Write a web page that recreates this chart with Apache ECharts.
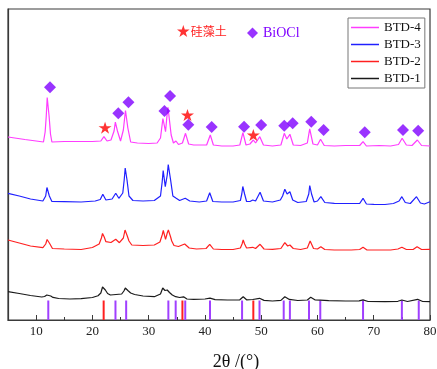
<!DOCTYPE html>
<html>
<head>
<meta charset="utf-8">
<script src="https://cdn.jsdelivr.net/npm/echarts@6/dist/echarts.min.js"></script>
<style>
  html, body { margin: 0; padding: 0; background: #fff; }
  #chart { width: 437px; height: 369px; }
</style>
</head>
<body>
<div id="chart"></div>
<script>
// XRD patterns, [2θ (°), intensity (a.u., stacked offsets)]
const btd1 = [[5,28.3],[7,26.5],[9,24.5],[11,23],[11.5,23.5],[11.9,25],[12.2,25],[12.6,24],[13,22.6],[14,21.5],[16,21],[18,21.3],[20,22.5],[21,24.3],[21.5,27],[21.8,33],[22,33.5],[22.3,30],[22.7,26.5],[23.2,25],[24.2,25.5],[25.2,26],[25.6,29],[25.85,32],[26.05,31.8],[26.3,29.5],[26.8,27],[27.5,25.5],[29,24],[31,23.3],[32.1,26],[32.5,32],[32.7,31.5],[32.9,29.5],[33.3,30],[33.7,27.5],[34.2,25],[34.8,23.3],[35.5,22.5],[36.2,23.2],[36.8,21],[38,20.7],[40,21],[40.9,21.8],[41.8,20.3],[44,20],[46.2,20.2],[46.8,23.3],[47.4,20.2],[48.5,20.5],[49.7,21.7],[50.5,19.6],[52,19],[53.5,19.6],[54.2,23.3],[55,20.6],[56.5,19.5],[58.2,20],[58.8,22.7],[59.6,20],[60.5,19.8],[62,19.3],[65,19],[67.4,19.2],[68.1,20.1],[69,18.5],[72,18.3],[74.3,18.7],[75,20],[76,18.5],[77.8,20.7],[78.7,18.5],[80,18.3]];

const btd2 = [[5,80],[7,77],[9,74],[11.2,72.3],[11.7,76],[11.95,80.5],[12.1,80.5],[12.4,76.5],[12.9,71.5],[15,71],[18,70.5],[20,72.5],[21.2,76],[21.6,82],[21.8,86.5],[21.95,86.3],[22.1,83],[22.4,78.3],[23.3,77.5],[24.15,80.7],[24.8,77.3],[25.5,82],[25.8,90],[26,90],[26.2,84],[26.5,79],[27,75],[29,74.5],[31,75],[32,78],[32.4,85],[32.6,89.5],[32.75,89],[33,80.7],[33.3,87],[33.5,90],[33.65,89],[33.9,83],[34.1,79],[34.5,74.5],[35.3,73.5],[36.4,76],[37.2,72],[38.5,71],[40.2,71.5],[40.85,75.7],[41.5,71],[43,70.5],[45,70.5],[46.3,72],[46.6,76],[46.8,80],[47.05,76],[47.4,72],[48.5,72.7],[49,71.5],[49.8,75.7],[50.5,71],[52,70.7],[53.5,71.5],[54.2,77.3],[54.7,74],[55.1,75],[55.7,71.5],[57,70.5],[58.2,72],[58.7,79],[59.3,71.5],[60,71],[60.6,73.3],[61.3,70.5],[63,70],[66,70],[67.5,70.5],[68.1,72.7],[68.8,70],[71,70],[73,70],[74.3,71],[75,72.7],[75.8,70.5],[77,70.5],[77.7,73.3],[78.5,70.5],[80,70.7]];

const btd3 = [[5,126.7],[7,124],[9,121],[11.2,119],[11.7,124],[11.92,132.5],[12.08,132.5],[12.35,124],[12.8,118.5],[15,118.3],[18,118],[20.5,119],[21.4,120.5],[21.85,125.7],[22.4,120],[23.5,121],[24.15,126.7],[24.7,121.7],[25.4,127],[25.65,140],[25.83,152],[25.97,152],[26.15,140],[26.5,124],[27.2,119.5],[29,119],[31,119.5],[32.1,124],[32.4,138],[32.58,149.5],[32.72,149.5],[32.95,133.3],[33.3,145],[33.48,155.5],[33.62,155.5],[33.9,140],[34.3,124],[34.9,121.7],[35.5,119.5],[36.5,121.7],[37.3,119],[39,118],[40.3,119],[40.85,127.3],[41.4,118.5],[43,118],[45,118],[46.3,119.5],[46.55,126],[46.73,133.5],[46.87,133.5],[47.05,126],[47.4,118.5],[48,118.5],[48.5,120],[49,119],[49.8,127.7],[50.4,119],[52,118],[53.4,120],[53.8,124],[54.2,130.7],[54.6,126],[55.1,128.3],[55.6,120],[56.5,117.5],[58,118.5],[58.45,126],[58.63,134.5],[58.77,134.5],[58.95,126],[59.4,118],[60,119],[60.6,123.3],[61.3,117.5],[63,116.7],[65,116.5],[67.5,116.5],[68.1,121.7],[68.7,116],[70,115.7],[72,115.5],[73.5,116.5],[74.5,119],[75,123.3],[75.6,117.5],[76.5,116.5],[77.6,123.3],[78.3,117],[79,116],[80,118.3]];

const btd4 = [[5,183],[8,180.5],[10,179],[11.3,178],[11.6,188],[11.8,204],[11.97,222.5],[12.13,222.5],[12.3,204],[12.55,186],[12.8,178],[15,178.5],[18,178.5],[20,178.5],[21.5,179],[22.05,183.3],[22.6,179],[23.3,180],[23.85,189],[24.08,197.8],[24.22,197.8],[24.45,189],[25,179],[25.5,190],[25.75,203],[25.88,209.5],[26.02,209.5],[26.3,192],[26.8,178],[28,177],[30,176.5],[31.5,177],[32.1,182],[32.53,201.5],[32.67,201.5],[33,188.3],[33.25,204],[33.43,212.8],[33.57,212.8],[34,185],[34.4,177],[34.85,179],[35.3,175.5],[36,177],[36.55,186.7],[37.1,176],[38,175],[40.3,175],[40.95,185],[41.5,175],[43,174],[45,174],[46.2,175],[46.75,187.3],[47.3,175],[48,176],[48.6,180],[49,177],[49.75,183.3],[50.4,175],[52,174],[53.5,175],[54.1,186.7],[54.55,181],[55.1,185.7],[55.7,175],[57,174.5],[58.2,177],[58.62,191.2],[58.78,191.2],[59.2,176],[60,175],[60.55,180.7],[61.2,174.5],[63,174],[65,174.5],[67.5,174.5],[68.1,178.3],[68.7,174],[71,174.5],[73,174],[74.4,175.5],[75.05,181.7],[75.8,175],[76.8,174.5],[77.75,180],[78.5,174.5],[80,174]];

// Standard card lines, drawn as sticks along the base
const biocLines = [12.16, 24.1, 26.0, 33.5, 34.8, 36.5, 40.9, 46.6, 49.7, 54.0, 55.1, 58.5, 60.5, 68.1, 75.0, 78.0];
const diatomiteLines = [22.0, 36.0, 48.6];
const stickHeight = 19.5;

// Phase markers above the BTD-4 pattern
const starMarks = [[22.25, 192.3], [36.9, 205], [48.6, 185]];
const diamondMarks = [[12.47, 232.7], [24.6, 206.7], [26.4, 217.7], [32.8, 209], [33.8, 224], [37.05, 195.3], [41.2, 193], [46.95, 193.3], [50.0, 195], [54.1, 194.3], [55.6, 196.7], [58.9, 198.3], [61.1, 190], [68.4, 187.7], [75.2, 190], [77.9, 189.3]];

const majorTicks = [10, 20, 30, 40, 50, 60, 70, 80];
const minorTicks = [15, 25, 35, 45, 55, 65, 75];

const starPath = 'path://M0,-10L2.245,-3.09L9.511,-3.09L3.633,1.18L5.878,8.09L0,3.82L-5.878,8.09L-3.633,1.18L-9.511,-3.09L-2.245,-3.09Z';
const serif = 'Liberation Serif';

const stickSeries = (name, xs, color) => ({
  name: name,
  type: 'custom',
  data: xs.map(x => [x, stickHeight]),
  renderItem: function (params, api) {
    const p0 = api.coord([api.value(0), 0]);
    const p1 = api.coord([api.value(0), api.value(1)]);
    return {
      type: 'line',
      shape: { x1: p0[0], y1: p0[1], x2: p1[0], y2: p1[1] },
      style: { stroke: color, lineWidth: 2 }
    };
  },
  silent: true,
  z: 2
});

const lineSeries = (name, data, color) => ({
  name: name,
  type: 'line',
  data: data,
  symbol: 'none',
  showSymbol: false,
  lineStyle: { color: color, width: 1.2 },
  itemStyle: { color: color },
  z: 3
});

const chart = echarts.init(document.getElementById('chart'), null, { renderer: 'canvas' });
chart.setOption({
  animation: false,
  backgroundColor: '#fff',
  grid: {
    left: 8, right: 7, top: 9, bottom: 49, outerBoundsMode: 'none',
    show: true, borderColor: '#3a3a3a', borderWidth: 1.2, backgroundColor: 'transparent'
  },
  xAxis: [{
    type: 'value', min: 5, max: 80,
    name: '2θ /(°)', nameLocation: 'middle', nameGap: 33,
    nameTextStyle: { fontFamily: serif, fontSize: 18, color: '#111', padding: [0, 0, 0, 34] },
    axisLine: { show: true, lineStyle: { color: '#3a3a3a', width: 1.2 } },
    axisTick: { show: true, inside: true, length: 5, customValues: majorTicks, lineStyle: { color: '#3a3a3a', width: 1 } },
    axisLabel: { show: true, customValues: majorTicks, margin: 5, fontFamily: serif, fontSize: 13, color: '#222' },
    splitLine: { show: false }
  }, {
    type: 'value', min: 5, max: 80, position: 'bottom',
    axisLine: { show: false },
    axisTick: { show: true, inside: true, length: 3, customValues: minorTicks, lineStyle: { color: '#3a3a3a', width: 1 } },
    axisLabel: { show: false },
    splitLine: { show: false }
  }],
  yAxis: {
    type: 'value', min: 0, max: 311,
    axisLine: { show: true, lineStyle: { color: '#3a3a3a', width: 1.2 } },
    axisTick: { show: false }, axisLabel: { show: false }, splitLine: { show: false }
  },
  legend: [{
    data: ['BTD-4', 'BTD-3', 'BTD-2', 'BTD-1'],
    orient: 'vertical', left: 348, top: 18,
    padding: [3, 4, 3, 3], itemGap: 4, itemWidth: 28, itemHeight: 1.5, icon: 'rect',
    borderColor: '#777', borderWidth: 1, backgroundColor: '#fff',
    textStyle: { fontFamily: serif, fontSize: 13, color: '#111' },
    selectedMode: false
  }, {
    data: [{ name: '硅藻土', icon: starPath, textStyle: { color: '#ff2020' } }],
    left: 177, top: 25, padding: 0, itemWidth: 13, itemHeight: 12,
    textStyle: { fontFamily: 'Noto Sans CJK SC', fontSize: 12, padding: [0, 0, 0, -4] },
    selectedMode: false
  }, {
    data: [{ name: 'BiOCl', icon: 'diamond', textStyle: { color: '#7f00ff' } }],
    left: 247, top: 26, padding: 0, itemWidth: 11, itemHeight: 11,
    textStyle: { fontFamily: serif, fontSize: 14 },
    selectedMode: false
  }],
  series: [
    stickSeries('BiOCl PDF', biocLines, '#a040ff'),
    stickSeries('Diatomite PDF', diatomiteLines, '#ff2020'),
    lineSeries('BTD-1', btd1, '#1a1a1a'),
    lineSeries('BTD-2', btd2, '#ff2020'),
    lineSeries('BTD-3', btd3, '#2020ff'),
    lineSeries('BTD-4', btd4, '#ff3cff'),
    {
      name: '硅藻土', type: 'scatter', data: starMarks,
      symbol: starPath, symbolSize: [13, 12],
      itemStyle: { color: '#ff0000' }, z: 5, silent: true
    },
    {
      name: 'BiOCl', type: 'scatter', data: diamondMarks,
      symbol: 'diamond', symbolSize: 12,
      itemStyle: { color: '#7f00ff' }, z: 5, silent: true
    }
  ]
});
</script>
</body>
</html>
